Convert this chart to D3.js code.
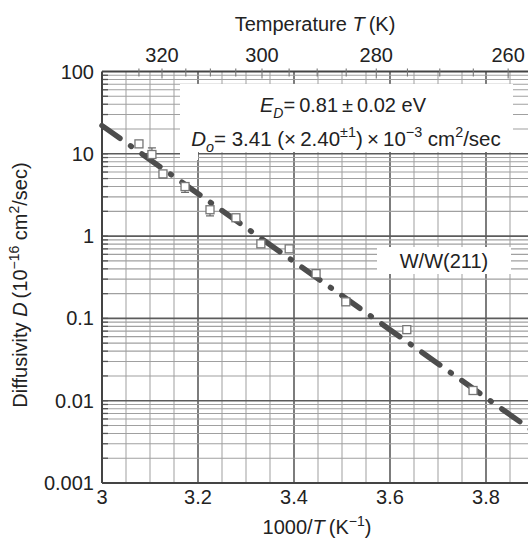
<!DOCTYPE html>
<html lang="en">
<head>
<meta charset="UTF-8" />
<title>Diffusivity W/W(211)</title>
<script src="https://cdn.jsdelivr.net/npm/d3@7"></script>
<style>
body{margin:0;background:#fff}
svg{display:block;font-family:"Liberation Sans",Arial,Helvetica,sans-serif}
text{fill:#222}
</style>
</head>
<body>
<svg id="chart" width="528" height="539"></svg>
<script>
/* values */
const invT  =[3.077,3.104,3.127,3.173,3.225,3.279,3.331,3.390,3.446,3.508,3.635,3.773];
const diff  =[13.2,9.8,5.7,4.0,2.09,1.67,0.805,0.70,0.35,0.159,0.073,0.0133];
const diffHi=[14.4,11.8,6.2,4.3,2.25,1.78,0.87,0.76,0.38,0.172,0.080,0.0146];
const diffLo=[12.1,8.9,5.1,3.4,1.76,1.56,0.74,0.64,0.32,0.146,0.066,0.0121];
const fitX=[3.0,3.9];
const fitD=[22,0.0042];
const xTicks=[3,3.2,3.4,3.6,3.8];
const xTickLabels=["3","3.2","3.4","3.6","3.8"];
const yTicks=[0.001,0.01,0.1,1,10,100];
const yTickLabels=["0.001","0.01","0.1","1","10","100"];
const tempLabels=[320,300,280,260];
const tempTicks=[325,320,315,310,305,300,295,290,285,280,275,270,265,260];

const svg=d3.select('#chart');
const L=102,R=534,T=71.5,B=483;
const x=d3.scaleLinear().domain([3,3.9]).range([L,R]);
const y=d3.scaleLog().domain([0.001,100]).range([B,T]);
const FS=20;

/* ===== log paper grid ===== */
const g=svg.append('g');
const vx=d3.range(1,19).map(i=>+(3+i*0.05).toFixed(2));
g.selectAll('line.v').data(vx).join('line')
  .attr('x1',d=>x(d)).attr('x2',d=>x(d)).attr('y1',T).attr('y2',B)
  .attr('stroke',d=>Math.round(d*100)%20===0?'#5c5c5c':'#a8a8a8')
  .attr('stroke-width',d=>Math.round(d*100)%20===0?1.6:1.1);
const hy=[];
for(let k=-3;k<=1;k++)for(let m=1;m<=9;m++)hy.push({v:m*Math.pow(10,k),major:m===1});
g.selectAll('line.h').data(hy).join('line')
  .attr('x1',L).attr('x2',R).attr('y1',d=>y(d.v)).attr('y2',d=>y(d.v))
  .attr('stroke',d=>d.major?'#5c5c5c':'#a0a0a0')
  .attr('stroke-width',d=>d.major?1.6:1.1);
/* short inner ticks on the left edge */
g.selectAll('line.lt').data(hy).join('line')
  .attr('x1',L).attr('x2',L+6).attr('y1',d=>y(d.v)).attr('y2',d=>y(d.v))
  .attr('stroke','#555').attr('stroke-width',1.3);

/* white label boxes over the grid */
svg.append('rect').attr('x',180).attr('y',84).attr('width',333).attr('height',68).attr('fill','#fff');
svg.append('rect').attr('x',180).attr('y',150).attr('width',18).attr('height',10).attr('fill','#fff');
svg.append('rect').attr('x',377).attr('y',247).attr('width',134).attr('height',27).attr('fill','#fff');

/* frame */
svg.append('line').attr('x1',L).attr('x2',L).attr('y1',T).attr('y2',B).attr('stroke','#444').attr('stroke-width',2);
svg.append('line').attr('x1',L).attr('x2',R).attr('y1',B).attr('y2',B).attr('stroke','#444').attr('stroke-width',2);
svg.append('line').attr('x1',L).attr('x2',R).attr('y1',T).attr('y2',T).attr('stroke','#444').attr('stroke-width',2);

/* top temperature axis */
svg.selectAll('line.tt').data(tempTicks).join('line')
  .attr('x1',d=>x(1000/d)).attr('x2',d=>x(1000/d))
  .attr('y1',T-3).attr('y2',d=>T+(tempLabels.includes(d)?7:5))
  .attr('stroke','#777').attr('stroke-width',1.1);
svg.selectAll('text.tl').data(tempLabels).join('text')
  .attr('x',d=>x(1000/d)).attr('y',62).attr('text-anchor','middle')
  .attr('font-size',FS).text(d=>d);

/* bottom / left tick labels */
svg.selectAll('text.xl').data(xTicks).join('text')
  .attr('x',d=>x(d)).attr('y',504).attr('text-anchor','middle')
  .attr('font-size',FS).text((d,i)=>xTickLabels[i]);
svg.selectAll('text.yl').data(yTicks).join('text')
  .attr('x',94).attr('y',d=>y(d)+7).attr('text-anchor','end')
  .attr('font-size',FS).text((d,i)=>yTickLabels[i]);

/* fit line */
svg.append('path').datum(fitX.map((v,i)=>[v,fitD[i]]))
  .attr('fill','none').attr('stroke','#4d4d4d').attr('stroke-width',5.5)
  .attr('stroke-linecap','round').attr('stroke-dasharray','22,13,1,13')
  .attr('d',d3.line().x(d=>x(d[0])).y(d=>y(d[1])));

/* data points with error bars */
const pts=invT.map((v,i)=>({x:v,d:diff[i],hi:diffHi[i],lo:diffLo[i]}));
const pg=svg.append('g').selectAll('g').data(pts).join('g');
pg.append('line').attr('x1',d=>x(d.x)).attr('x2',d=>x(d.x))
  .attr('y1',d=>y(d.hi)).attr('y2',d=>y(d.lo)).attr('stroke','#666').attr('stroke-width',1.2);
['hi','lo'].forEach(k=>pg.append('line')
  .attr('x1',d=>x(d.x)-4).attr('x2',d=>x(d.x)+4)
  .attr('y1',d=>y(d[k])).attr('y2',d=>y(d[k])).attr('stroke','#666').attr('stroke-width',1.2));
pg.append('rect').attr('x',d=>x(d.x)-4).attr('y',d=>y(d.d)-4)
  .attr('width',8).attr('height',8).attr('fill','#fff').attr('stroke','#777').attr('stroke-width',1.3);

/* rich text helper: [string, kind] with kind '', 'i', 'sup', 'sub', 'isub' */
function rich(t,parts,fs){
  let shift=0;
  parts.forEach(([s,k])=>{
    const off=k.includes('sup')?-0.42*fs:k.includes('sub')?0.28*fs:0;
    const sp=t.append('tspan').text(s).attr('dy',off-shift);
    shift=off;
    if(off)sp.attr('font-size',fs*0.7);
    if(k==='i'||k==='isub')sp.attr('font-style','italic');
  });
  return t;
}

/* annotations */
rich(svg.append('text').attr('x',343).attr('y',112).attr('text-anchor','middle').attr('font-size',FS),
  [['E','i'],['D','isub'],['=\u20090.81\u2009\u00b1\u20090.02 eV','']],FS);
rich(svg.append('text').attr('x',346).attr('y',146).attr('text-anchor','middle').attr('font-size',20.5),
  [['D','i'],['o','isub'],['= 3.41 (\u00d7\u20092.40',''],['\u00b11','sup'],[')\u2009\u00d7\u200910',''],['\u22123','sup'],[' cm',''],['2','sup'],['/sec','']],20.5);
svg.append('text').attr('x',444).attr('y',268).attr('text-anchor','middle').attr('font-size',FS).text('W/W(211)');

/* axis titles */
rich(svg.append('text').attr('x',315).attr('y',31).attr('text-anchor','middle').attr('font-size',FS),
  [['Temperature ',''],['T','i'],['\u2009(K)','']],FS);
rich(svg.append('text').attr('x',317).attr('y',534).attr('text-anchor','middle').attr('font-size',FS),
  [['1000/',''],['T','i'],['\u2009(K',''],['\u22121','sup'],[')','']],FS);
rich(svg.append('text').attr('transform','translate(27,285) rotate(-90)').attr('text-anchor','middle').attr('font-size',FS),
  [['Diffusivity ',''],['D','i'],['\u2009(10',''],['\u221216','sup'],[' cm',''],['2','sup'],['/sec)','']],FS);
</script>
</body>
</html>
